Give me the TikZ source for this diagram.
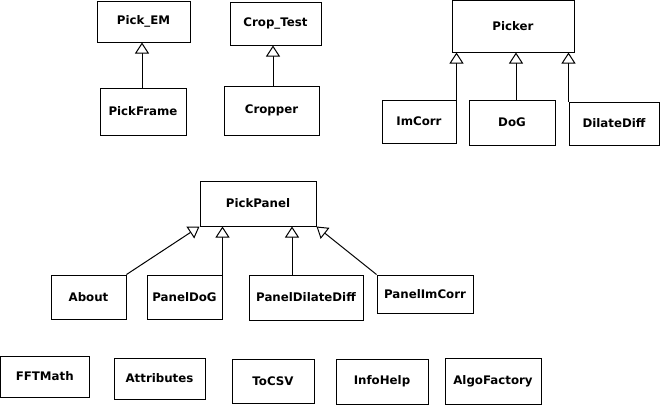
\documentclass[tikz,border=0pt]{standalone}
\usepackage{fontspec}
\setmainfont{DejaVu Sans}
\usetikzlibrary{arrows.meta}
\begin{document}
\begin{tikzpicture}[x=1bp,y=-1bp,
  cls/.style={draw=black,line width=1bp,inner sep=0pt,align=center,
    font=\fontsize{11.8bp}{14bp}\selectfont\bfseries},
  inh/.style={draw=black,line width=1bp,-{Triangle[length=11bp,width=14bp,fill=white,line width=1bp]}}]
\useasboundingbox (0,0) rectangle (660,404);
\node[cls,minimum width=93bp,minimum height=41bp] (pickem) at (143.5,21.5) {Pick\_EM};
\node[cls,minimum width=86bp,minimum height=47bp] (pickframe) at (143,111.5) {PickFrame};
\node[cls,minimum width=91bp,minimum height=43bp] (croptest) at (275.5,23.5) {Crop\_Test};
\node[cls,minimum width=95bp,minimum height=49bp] (cropper) at (271.5,110.5) {Cropper};
\node[cls,minimum width=122bp,minimum height=51.5bp] (picker) at (513,26.25) {Picker};
\node[cls,minimum width=74bp,minimum height=43bp] (imcorr) at (419,121.5) {ImCorr};
\node[cls,minimum width=86bp,minimum height=45bp] (dog) at (512,122.5) {DoG};
\node[cls,minimum width=90bp,minimum height=43bp] (dilatediff) at (614,123.5) {DilateDiff};
\node[cls,minimum width=116bp,minimum height=45bp] (pickpanel) at (258,203.5) {PickPanel};
\node[cls,minimum width=75bp,minimum height=44bp] (about) at (88.5,297) {About};
\node[cls,minimum width=75bp,minimum height=44bp] (paneldog) at (184.5,297) {PanelDoG};
\node[cls,minimum width=114bp,minimum height=45bp] (paneldilate) at (306,297.5) {PanelDilateDiff};
\node[cls,minimum width=96bp,minimum height=38bp] (panelimcorr) at (425,294) {PanelImCorr};
\node[cls,minimum width=88.5bp,minimum height=41bp] (fftmath) at (44.75,376.5) {FFTMath};
\node[cls,minimum width=91bp,minimum height=41bp] (attributes) at (159.5,378.5) {Attributes};
\node[cls,minimum width=82bp,minimum height=44bp] (tocsv) at (273,381) {ToCSV};
\node[cls,minimum width=92bp,minimum height=45bp] (infohelp) at (382,381.5) {InfoHelp};
\node[cls,minimum width=96bp,minimum height=46bp] (algofactory) at (493,381) {AlgoFactory};
% inheritance
\draw[inh] ([xshift=-1bp]pickframe.north) -- ([xshift=-1bp]pickframe.north |- pickem.south);
\draw[inh] ([xshift=1.5bp]cropper.north) -- ([xshift=1.5bp]cropper.north |- croptest.south);
\draw[inh] (imcorr.north east) -- (imcorr.north east |- picker.south);
\draw[inh] ([xshift=4bp]dog.north) -- ([xshift=4bp]dog.north |- picker.south);
\draw[inh] (dilatediff.north west) -- (dilatediff.north west |- picker.south);
\draw[inh] (about.north east) -- (pickpanel.south west);
\draw[inh] (paneldog.north east) -- (paneldog.north east |- pickpanel.south);
\draw[inh] ([xshift=-14bp]paneldilate.north) -- ([xshift=-14bp]paneldilate.north |- pickpanel.south);
\draw[inh] (panelimcorr.north west) -- (pickpanel.south east);
\end{tikzpicture}
\end{document}
